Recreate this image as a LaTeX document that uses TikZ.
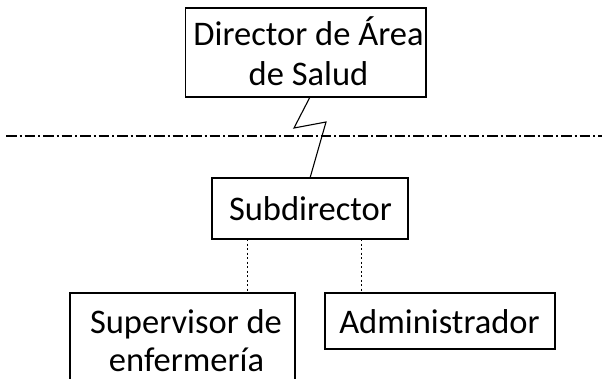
\documentclass[tikz,border=0pt]{standalone}
\usepackage{fontspec}
\setmainfont{Carlito}
\begin{document}
\begin{tikzpicture}[x=1pt,y=-1pt,
  box/.style={draw=black,line width=1.3pt,inner sep=0pt,outer sep=0pt},
  lbl/.style={inner sep=0pt,anchor=base,font=\fontsize{34.5}{40}\selectfont},
  zig/.style={draw=black,line width=1.1pt},
  dotline/.style={draw=black,line width=1pt,dash pattern=on 2pt off 2.5pt},
  sep/.style={draw=black,line width=2pt,dash pattern=on 10.5pt off 3pt on 2pt off 3pt}]
\useasboundingbox (0,0) rectangle (605,378);
% boxes
\node[box,minimum width=240.3pt,minimum height=89pt] (dir) at (305.85,52.5) {};
\node[box,minimum width=196pt,minimum height=61pt] (sub) at (310,208.5) {};
\node[box,minimum width=225pt,minimum height=100pt] (sup) at (182.5,343) {};
\node[box,minimum width=230pt,minimum height=56pt] (adm) at (440,321) {};
% labels
\node[lbl] (t1) at (308.5,45) {Director de Área};
\node[lbl] (t2) at (308.5,85) {de Salud};
\node[lbl] (t3) at (310.5,220) {Subdirector};
\node[lbl] (t4) at (186,333) {Supervisor de};
\node[lbl] (t5) at (186.5,371.5) {enfermería};
\node[lbl] (t6) at (439.5,333) {Administrador};
% separator
\coordinate (sl) at (6,136);
\coordinate (sr) at (602,136);
\draw[sep] (sl) -- (sr);
% zigzag connector
\coordinate (z1) at (294,128);
\coordinate (z2) at (326,122);
\draw[zig,line join=miter] (dir.south -| 310,0) -- (z1) -- (z2) -- (sub.north);
% dotted connectors
\coordinate (d1) at (247,0);
\coordinate (d2) at (361,0);
\draw[dotline] (sub.south -| d1) -- (sup.north -| d1);
\draw[dotline] (sub.south -| d2) -- (adm.north -| d2);
\end{tikzpicture}
\end{document}
